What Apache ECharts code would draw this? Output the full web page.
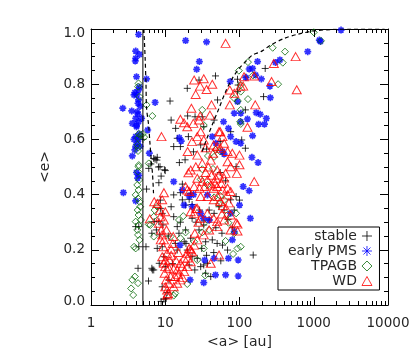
<!DOCTYPE html>
<html><head><meta charset="utf-8">
<script src="https://cdn.jsdelivr.net/npm/echarts@6/dist/echarts.min.js"></script>
<style>html,body{margin:0;padding:0;background:#fff}#c{width:415px;height:363px}</style>
</head><body><div id="c"></div>
<script>
// ---- data: [a (au), e] ----
const stablePts = [[11.6,.739],[12,.67],[19.8,.785],[28.5,.815],[47.5,.83],[94,.818],[122,.826],[222,.857],[211,.755],[50.6,.743],[25.2,.682],[31.5,.682],[45.5,.67],[120,.707],
[13.8,.64],[14.5,.604],[13,.574],[16,.574],[15.5,.516],[20.5,.61],[33,.646],[55,.592],[76,.628],[120,.568],[107,.598],
[7.3,.528],[7.8,.535],[6.4,.511],[8.5,.501],[10,.487],[8.8,.467],[8.2,.443],
[17,.438],[13,.399],[16,.407],[21.9,.405],[23,.364],[18.8,.362],
[8.6,.38],[8.6,.35],[9.1,.332],[8.2,.302],[7.1,.302],[9.3,.29],[7.6,.272],[6.6,.26],[8.4,.254],[9.1,.211],[7.8,.205],[9.6,.175],[8.3,.151],[10,.139],[6.6,.133],[7,.127],[11.2,.091],[9.1,.066],[10.6,.045],[9.6,.021],[8.8,.013],[10.3,.024],
[12,.356],[13,.32],[14.5,.284],[15.3,.26],[18.8,.272],[22,.242],[18,.229],[13.7,.223],[14.5,.199],[19.8,.199],[23,.175],[27,.169],[21,.145],[25,.127],[30,.139],[33,.145],[37,.151],[31,.205],[35,.229],[43,.236],[50,.223],[59,.217],[69,.199],[28.5,.272],[33,.29],[39,.308],[45.5,.332],[53,.356],[62,.344],[85,.344],[76,.381],[90,.393],[100,.38],[39,.344],[29,.344],[23,.314],
[17,.381],[21,.383],[41,.103],[35,.115],[19,.223],[153,.181],[90,.501],[96,.797],[94,.773],
[6,.495],[8.1,.5],[5.6,.42],[4.4,.284],[4.0,.284],[4.4,.211],[5.5,.211],[4.3,.133],[5.95,.087],[6.7,.127],[9.8,.49],[7,.531],[7.7,.525],[4.4,.61],[5.0,.6],
[20,.685],[18.5,.526],[24,.555],[30,.58],[36,.565],[55,.48],[65,.45],[48,.28],[58,.26],[70,.31],[80,.28],[12.5,.15],[11,.25],[16,.3],[26,.3],[36,.18],[45,.19],[56,.16]];

const pmsPts = [[4.37,.98],[4.0,.92],[4.5,.908],[4.0,.894],[3.95,.884],[4.1,.827],[5.6,.819],[4.37,.779],[4.15,.761],[3.8,.761],[4.37,.743],[4.3,.731],[2.68,.713],[3.54,.703],[4.3,.691],[4.0,.676],[3.6,.658],[4.1,.652],[4.37,.664],[7.3,.734],[4.8,.676],[4.1,.646],[5.8,.634],[4.0,.61],[4.37,.6],[4.2,.587],[4.0,.575],[4.6,.575],[3.9,.562],[3.6,.54],[6.1,.55],[4.1,.48],[4.4,.47],[4.25,.46],[2.73,.407],[4.0,.377],
[4.5,.79],[3.9,.77],[4.6,.72],[4.2,.70],[4.5,.62],[3.8,.6],
[18.8,.958],[36,.953],[28.8,.882],[26.5,.854],[75,.81],[135,.855],[122,.824],[61,.664],[71,.64],[104,.664],[150,.613],[76,.61],[90,.592],[104,.586],[43,.61],[48,.586],[59,.556],[62,.547],[94,.737],[85,.695],[104,.695],[128,.674],[15.5,.606],[16.4,.594],[13,.447],[17,.417],[112,.429],[135,.414],[17.9,.362],[23,.356],[30,.332],[37,.399],[100,.362],[76,.332],[32.7,.314],[39,.308],[140,.314],[85,.266],[80,.236],[15.8,.217],[45.5,.169],[34,.163],[71,.169],[96,.163],[21.6,.091],[33,.081],[47.5,.109],[65,.109],[96,.105],[21,.395],[24,.4],
[2330,.996],[1190,.96],[1230,.955],[830,.918],[350,.888],[305,.879],[175,.882],[150,.857],[165,.833],[197,.819],[257,.793],[260,.751],[168,.697],[190,.691],[230,.676],[181,.655],[217,.655],[147,.535],[178,.516]];

const tpagbPts = [[4.37,.803],[4.3,.791],[4.5,.755],[5.6,.725],[6.7,.685],[4.4,.62],[4.6,.615],[4.3,.605],[5.0,.62],[5.2,.608],[4.3,.558],[4.4,.507],[6,.513],
[4.37,.501],[4.3,.483],[4.45,.453],[4.2,.435],[4.37,.417],[4.0,.399],[4.3,.386],[4.5,.374],[4.6,.356],[4.25,.344],[4.37,.326],[4.7,.308],[4.0,.302],[4.37,.29],[4.2,.272],[4.3,.254],[4.5,.236],[3.8,.211],[4.0,.205],
[6.3,.29],[7,.32],[3.6,.091],[4.3,.079],[3.47,.06],[3.9,.103],[3.7,.036],[4.2,.58],[4.3,.57],
[98,.849],[130,.88],[152,.832],[280,.932],[410,.918],[383,.878],[331,.8],[1000,.988],[1250,.957],[104,.797],[104,.773],[85,.749],[95,.739],[130,.746],[104,.707],[104,.656],[102,.664],
[31.5,.707],[33,.652],[37.6,.54],[31.5,.492],[45.5,.537],[47.5,.562],[55,.556],
[7.2,.344],[7.8,.356],[6,.292],[7,.248],[15.3,.308],[17.5,.322],[11.8,.248],[16,.242],[18.8,.263],
[33,.296],[39,.272],[45.5,.39],[53,.366],[62,.38],[69,.326],[71,.298],[85,.26],[104,.211],[94,.205],[82,.185],[65,.232],[90,.332],[33,.205],[27,.163],[19.8,.076],[34.5,.107],[24.5,.229],[31.5,.263],
[13,.034],[13.6,.042],[44,.493],[37,.435],[30,.455],[55,.395]];

const wdPts = [[65,.948],[570,.90],[590,.78],[290,.875],[270,.81],[158,.83],[163,.725],[115,.827],[112,.793],[128,.644],[158,.447],
[24.5,.815],[29.5,.793],[33,.82],[43,.80],[36,.781],[25.7,.763],[22.5,.713],[42,.725],[29.5,.685],[16,.673],[19.8,.646],[23.9,.658],[28.5,.67],[17.9,.66],
[8.9,.61],[74,.779],[74,.725],[85,.767],[103,.793],
[27,.61],[30,.628],[33,.598],[23,.592],[20,.556],[27,.543],[40,.688],[53,.628],[55,.628],[59,.61],
[45,.58],[50,.574],[55,.568],[62,.586],[69,.556],[80,.55],[100,.543],[100,.508],
[41,.525],[31.5,.513],[25.8,.501],[22,.489],[20.5,.479],
[50,.489],[53,.471],[48,.459],[65,.477],[76,.501],[92,.477],[69,.519],
[27,.459],[31.5,.447],[37,.453],[41,.435],[34,.429],[29,.423],[24.5,.429],[19.8,.417],[18.8,.429],[21,.411],[45,.423],[50,.429],[59,.417],[69,.423],[76,.411],[69,.399],
[51,.393],[45,.381],[55,.375],[37,.393],[30,.393],
[22,.338],[24.5,.332],[27,.35],[30,.314],[37,.332],[45,.314],[50,.302],[62,.308],[50,.284],[76,.326],[90,.298],
[39,.272],[33,.254],[27,.236],[24.5,.217],[21,.205],[23,.193],[19.8,.187],[17.9,.169],[16,.151],[17,.139],[14.5,.127],[13.6,.103],[16,.091],[14.5,.079],[13,.066],
[18,.121],[19.8,.139],[22,.157],[41,.151],[53,.181],[94,.293],[94,.268],[76,.272],
[7.8,.368],[8.5,.342],[8.6,.32],[8.2,.296],[8.8,.272],[9.1,.254],[9.6,.236],[8.7,.236],[9.1,.175],[9.6,.151],[10,.139],[9.8,.115],[10.3,.091],[10,.066],[10.9,.042],[10.6,.054],
[9.6,.407],[9.1,.381],[10,.338],[9.6,.308],[10.4,.272],[9.4,.211],[10.6,.187],[10,.163],[11.2,.133],[11.8,.103],[11.2,.079],[10.6,.036],
[7.1,.374],[6.2,.312],[12,.202],[12.8,.248],[12.6,.223],
[42,.47],[47,.44],[57,.44],[62,.46],[35,.48],[38,.5],[44,.55],[35,.57],[60,.36],[66,.35],[72,.37],[58,.33],[15,.19],[14,.16],[12,.18],[11.5,.16],[13,.13],[15,.11],[17,.1],[20,.17],[22,.2],[25,.26],[28,.3],[26,.35]];

// guide lines
const vLine = [[5,0],[5,1]];
const leftCurve = [[5.15,1.0],[5.36,.894],[5.5,.803],[5.6,.713],[5.97,.652],[6.2,.592],[6.45,.531],[6.75,.471],[6.95,.405]];
const rightCurve = [[31.5,.556],[35,.592],[42.8,.652],[53,.713],[65,.773],[80,.821],[99,.857],[121,.882],[150,.906],[194,.918],[265,.942],[400,.966],[610,.981],[1000,.993],[1700,.998],[3200,1.0],[9000,1.0]];

// axis ticks
const xMinorTicks = [2,3,4,5,6,7,8,9,20,30,40,50,60,70,80,90,200,300,400,500,600,700,800,900,2000,3000,4000,5000,6000,7000,8000,9000];

const FONT = 'DejaVu Sans';
const TXT = '#262626';
const plusPath = 'path://M5,0L5,10M0,5L10,5';
const starPath = 'path://M5,0L5,10M0,5L10,5M1.5,1.5L8.5,8.5M8.5,1.5L1.5,8.5';
const diamondPath = 'path://M5,0L10,5L5,10L0,5Z';
const triPath = 'path://M5,0L10,9L0,9Z';

const chart = echarts.init(document.getElementById('c'), null, {renderer:'canvas'});

function yFmt(v){
  const s = v.toFixed(1);
  if (Math.abs(v) < 1e-9) return '{lo|' + s + '}';
  if (Math.abs(v-1) < 1e-9) return '{hi|' + s + '}';
  return s;
}

const tickStyle = {show:true, inside:true, length:8, lineStyle:{color:'#000', width:1}};
const minorStyle = {show:true, splitNumber:4, length:4, lineStyle:{color:'#000', width:1}};

chart.setOption({
  animation:false,
  backgroundColor:'#fff',
  grid:{left:91, right:27, top:29, bottom:58, containLabel:false},
  legend:{
    data:['stable','early PMS','TPAGB','WD'],
    orient:'vertical', left:278, top:227, align:'right',
    itemGap:1, itemWidth:10, itemHeight:10,
    padding:[2,7,2,10],
    borderColor:'#000', borderWidth:1, backgroundColor:'#fff',
    itemStyle:{borderWidth:1},
    formatter: n => '{r|' + n + '}',
    textStyle:{fontFamily:FONT, fontSize:14, color:TXT,
      rich:{r:{width:67, align:'right', fontFamily:FONT, fontSize:14, lineHeight:14, color:TXT}}}
  },
  xAxis:[
    {type:'log', logBase:10, min:1, max:10000, position:'bottom',
     name:'<a> [au]', nameLocation:'middle', nameGap:28,
     nameTextStyle:{fontFamily:FONT, fontSize:14, color:TXT},
     axisLine:{show:true, onZero:false, lineStyle:{color:'#000', width:1}},
     axisTick:tickStyle, splitLine:{show:false},
     axisLabel:{show:true, margin:11, fontFamily:FONT, fontSize:13.5, color:TXT, formatter:v=>String(Math.round(v))}},
    {type:'log', logBase:10, min:1, max:10000, position:'top',
     axisLine:{show:true, onZero:false, lineStyle:{color:'#000', width:1}},
     axisTick:tickStyle, splitLine:{show:false}, axisLabel:{show:false}}
  ],
  yAxis:[
    {type:'value', min:0, max:1, interval:0.2, position:'left',
     name:'<e>', nameLocation:'middle', nameGap:37, nameRotate:90,
     nameTextStyle:{fontFamily:FONT, fontSize:14, color:TXT},
     axisLine:{show:true, onZero:false, lineStyle:{color:'#000', width:1}},
     axisTick:tickStyle, minorTick:minorStyle, splitLine:{show:false}, minorSplitLine:{show:false},
     axisLabel:{show:true, margin:6, fontFamily:FONT, fontSize:13.5, color:TXT, formatter:yFmt,
       rich:{lo:{fontFamily:FONT, fontSize:13.5, color:TXT, padding:[0,0,8,0]},
             hi:{fontFamily:FONT, fontSize:13.5, color:TXT, padding:[8,0,0,0]}}}},
    {type:'value', min:0, max:1, interval:0.2, position:'right',
     axisLine:{show:true, onZero:false, lineStyle:{color:'#000', width:1}},
     axisTick:tickStyle, minorTick:minorStyle, splitLine:{show:false}, axisLabel:{show:false}}
  ],
  series:[
    {type:'custom', name:'xminor', coordinateSystem:'cartesian2d', silent:true, z:1,
     data: xMinorTicks.map(v=>[v,0]),
     renderItem:(params, api)=>{
       const x = Math.round(api.coord([api.value(0),0])[0]) + 0.5;
       const yb = api.coord([1,0])[1];
       const yt = api.coord([1,1])[1];
       return {type:'group', children:[
         {type:'line', shape:{x1:x,y1:yb,x2:x,y2:yb-4}, style:{stroke:'#000', lineWidth:1}},
         {type:'line', shape:{x1:x,y1:yt,x2:x,y2:yt+4}, style:{stroke:'#000', lineWidth:1}}
       ]};
     }},
    {type:'scatter', name:'stable', data:stablePts, symbol:plusPath, symbolSize:7, z:3,
     itemStyle:{color:'#000', borderColor:'#000', borderWidth:1}},
    {type:'scatter', name:'early PMS', data:pmsPts, symbol:starPath, symbolSize:7, z:4,
     itemStyle:{color:'#0000ff', borderColor:'#0000ff', borderWidth:1.7}},
    {type:'scatter', name:'TPAGB', data:tpagbPts, symbol:diamondPath, symbolSize:[7,7], z:5,
     itemStyle:{color:'rgba(0,0,0,0)', borderColor:'#0a6b0a', borderWidth:1}},
    {type:'scatter', name:'WD', data:wdPts, symbol:triPath, symbolSize:[9,8], z:6,
     itemStyle:{color:'rgba(0,0,0,0)', borderColor:'#ff0000', borderWidth:1}},
    {type:'line', name:'vline', data:vLine, symbol:'none', silent:true, z:10, zlevel:1,
     lineStyle:{color:'#000', width:1}},
    {type:'line', name:'curveL', data:leftCurve, symbol:'none', smooth:0.3, silent:true, z:10, zlevel:1,
     lineStyle:{color:'#000', width:1.2, type:[4,3]}},
    {type:'line', name:'curveR', data:rightCurve, symbol:'none', smooth:0.3, silent:true, z:10, zlevel:1,
     lineStyle:{color:'#000', width:1.2, type:[4,3]}}
  ]
});
</script>
</body></html>
